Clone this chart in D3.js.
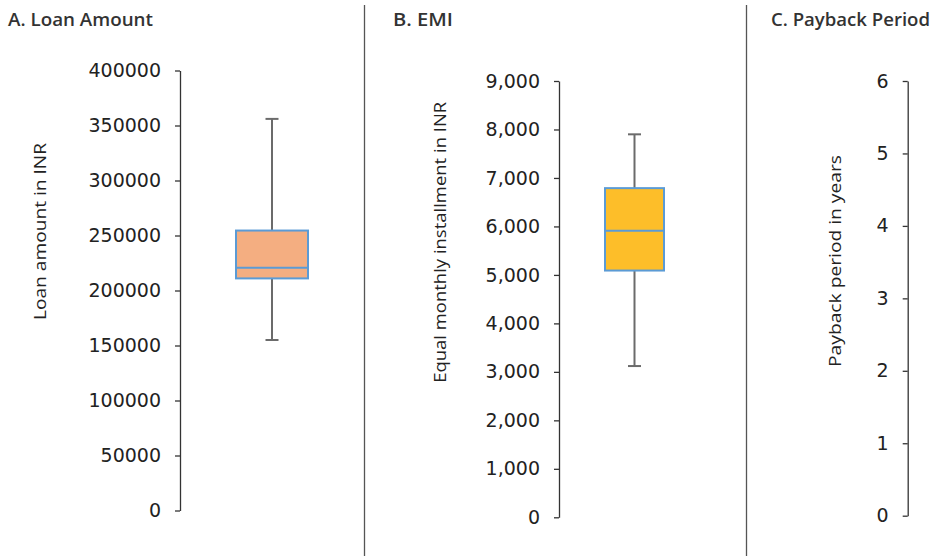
<!DOCTYPE html>
<html>
<head>
<meta charset="utf-8">
<script src="https://cdn.jsdelivr.net/npm/d3@7"></script>
<style>
  html, body { margin: 0; padding: 0; background: #fff; }
  svg { display: block; }
  .tick text { font-family: "DejaVu Sans", "Bitstream Vera Sans", Verdana, sans-serif !important; }
</style>
</head>
<body>
<svg id="chart" width="932" height="556"></svg>
<script>
// ---- data ----
const panelTitles = ["A. Loan Amount", "B. EMI", "C. Payback Period"];
const axisTitles = ["Loan amount in INR", "Equal monthly installment in INR", "Payback period in years"];
const yMaxes = [400000, 9000, 6];
const tickSteps = [50000, 1000, 1];
const tickFormats = ["d", ",", "d"];
// box stats: [min, q1, median, q3, max]
const loanStats = [155000, 211000, 220600, 254500, 356000];
const emiStats = [3120, 5090, 5910, 6790, 7900];
const boxStats = [loanStats, emiStats, null];   // panel C box lies outside the visible area
const boxFills = ["#f4ae81", "#fdbe29", null];

// ---- layout ----
const svg = d3.select("#chart");
const layout = [
  { titleX: 8,   titleLen: 145, axisX: 180,   top: 70.5, bottom: 510.5, titleAxisX: 40,  tLen: 177, boxOff: 92, boxW: 72, midY: 231.5 },
  { titleX: 393, titleLen: 60,  axisX: 559,   top: 81,   bottom: 517.3, titleAxisX: 440, tLen: 281, boxOff: 75.5, boxW: 59, midY: 242.3 },
  { titleX: 771, titleLen: 159, axisX: 907.7, top: 81,   bottom: 515.7, titleAxisX: 835, tLen: 212, boxOff: 75, boxW: 59, midY: 261 }
];

// separators
[364.5, 746.5].forEach(x => {
  svg.append("line").attr("x1", x).attr("x2", x).attr("y1", 5).attr("y2", 556)
    .attr("stroke", "#555").attr("stroke-width", 1.3);
});

layout.forEach((L, i) => {
  const g = svg.append("g");
  // panel title
  g.append("text")
    .attr("x", L.titleX).attr("y", 26)
    .style("font-family", "'Liberation Sans Narrow', 'Open Sans', sans-serif")
    .style("font-weight", "600").style("font-size", "18px").attr("fill", "#333")
    .attr("textLength", L.titleLen).attr("lengthAdjust", "spacingAndGlyphs")
    .text(panelTitles[i]);

  const y = d3.scaleLinear().domain([0, yMaxes[i]]).range([L.bottom, L.top]);
  const ticks = d3.range(0, yMaxes[i] + tickSteps[i] / 2, tickSteps[i]);
  const axis = d3.axisLeft(y).tickValues(ticks).tickSize(5).tickPadding(14)
    .tickSizeOuter(0).tickFormat(d3.format(tickFormats[i]));
  const ag = g.append("g").attr("transform", `translate(${L.axisX},0)`).call(axis)
    .attr("font-family", null).attr("font-size", null);
  ag.select(".domain").attr("stroke", "#333").attr("stroke-width", 1.3);
  ag.selectAll(".tick line").attr("stroke", "#333").attr("stroke-width", 1.3);
  ag.selectAll(".tick text").style("font-size", "19px").attr("fill", "#222");

  // axis title
  g.append("text")
    .attr("transform", `translate(${L.titleAxisX + 6},${L.midY}) rotate(-90)`)
    .attr("text-anchor", "middle")
    .style("font-family", "'Open Sans', 'Noto Sans', sans-serif")
    .style("font-size", "16px").attr("fill", "#222")
    .attr("textLength", L.tLen).attr("lengthAdjust", "spacingAndGlyphs")
    .text(axisTitles[i]);

  // box plot
  const s = boxStats[i];
  if (s) {
    const x = d3.scaleBand().domain([panelTitles[i]])
      .range([L.axisX + L.boxOff - L.boxW / 2, L.axisX + L.boxOff + L.boxW / 2]).padding(0);
    const x0 = x(panelTitles[i]), bw = x.bandwidth(), cx = x0 + bw / 2;
    const wcol = "#6b6b6b";
    g.append("line").attr("x1", cx).attr("x2", cx).attr("y1", y(s[0])).attr("y2", y(s[4]))
      .attr("stroke", wcol).attr("stroke-width", 2);
    [s[0], s[4]].forEach(v => {
      g.append("line").attr("x1", cx - 6.5).attr("x2", cx + 6.5).attr("y1", y(v)).attr("y2", y(v))
        .attr("stroke", wcol).attr("stroke-width", 2);
    });
    g.append("rect").attr("x", x0).attr("width", bw)
      .attr("y", y(s[3])).attr("height", y(s[1]) - y(s[3]))
      .attr("fill", boxFills[i]).attr("stroke", "#5b9bd5").attr("stroke-width", 2);
    g.append("line").attr("x1", x0).attr("x2", x0 + bw).attr("y1", y(s[2])).attr("y2", y(s[2]))
      .attr("stroke", "#5b9bd5").attr("stroke-width", 2);
  }
});
</script>
</body>
</html>
